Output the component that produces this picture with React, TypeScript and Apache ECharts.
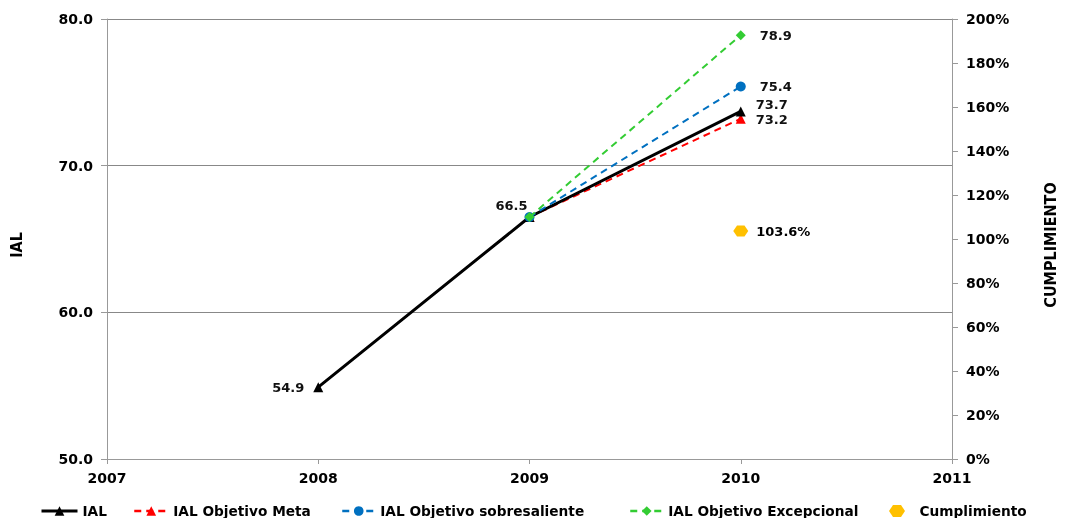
import React, { useEffect, useRef } from "react";
import * as echarts from "echarts";

const years = [2008, 2009, 2010];
const ialValues = [54.9, 66.5, 73.7];
const metaValues = [null, 66.5, 73.2];
const sobresalienteValues = [null, 66.5, 75.4];
const excepcionalValues = [null, 66.5, 78.9];
const cumplimientoYears = [2010];
const cumplimientoValues = [103.6];

const xTicks = { min: 2007, max: 2011, interval: 1 };
const leftTicks = { min: 50, max: 80, interval: 10 };
const rightTicks = { min: 0, max: 200, interval: 20 };

const LABEL_FONT = "DejaVu Sans";
const NAME_FONT = "'DejaVu Sans Condensed', 'Liberation Sans Narrow', 'DejaVu Sans', sans-serif";

function pairs(vals: (number | null)[]) {
  const out: any[] = [];
  vals.forEach((v, i) => {
    if (v !== null) out.push([years[i], v]);
  });
  return out;
}

const dataLabel = {
  fontFamily: LABEL_FONT,
  fontWeight: "bold",
  fontSize: 13,
  color: "#111",
};

export default function App() {
  const ref = useRef<HTMLDivElement>(null);
  useEffect(() => {
    const chart = echarts.init(ref.current!, undefined, { renderer: "svg" });
    const axisLabel = {
      fontFamily: LABEL_FONT,
      fontWeight: "bold" as const,
      fontSize: 14,
      color: "#000",
    };
    const legendText = {
      fontFamily: LABEL_FONT,
      fontWeight: "bold" as const,
      fontSize: 13.7,
      color: "#000",
    };
    const nameStyle = {
      fontFamily: NAME_FONT,
      fontWeight: "bold",
      fontSize: 16,
      color: "#000",
      padding: [0, 12, 0, 0],
    };
    const ialData = pairs(ialValues).map((p, i) => {
      const lbl: any[] = [
        { show: true, position: "left", distance: 9 },
        { show: true, position: "top", distance: 1, offset: [-18, 1] },
        { show: true, position: "right", distance: 10, offset: [0, -7] },
      ];
      return { value: p, label: { ...dataLabel, ...lbl[i] } };
    });
    const lastOnly = (vals: (number | null)[], extra: any = {}) =>
      pairs(vals).map((p) =>
        p[0] === 2010
          ? { value: p, label: { ...dataLabel, show: true, position: "right", distance: 10, ...extra } }
          : { value: p }
      );
    const option: any = {
      animation: false,
      grid: {
        left: 107,
        right: 117,
        top: 19,
        bottom: 59,
        containLabel: false,
        outerBoundsMode: "none",
      },
      xAxis: {
        type: "value",
        min: xTicks.min,
        max: xTicks.max,
        interval: xTicks.interval,
        axisLine: { show: true, lineStyle: { color: "#999", width: 1 } },
        axisTick: { show: true, length: 5, lineStyle: { color: "#999" } },
        axisLabel: { ...axisLabel, margin: 12, formatter: (v: number) => String(v) },
        splitLine: { show: false },
      },
      yAxis: [
        {
          type: "value",
          min: leftTicks.min,
          max: leftTicks.max,
          interval: leftTicks.interval,
          name: "IAL",
          nameLocation: "middle",
          nameGap: 83,
          nameTextStyle: nameStyle,
          axisLine: { show: true, lineStyle: { color: "#999", width: 1 } },
          axisTick: { show: true, length: 6, lineStyle: { color: "#999" } },
          axisLabel: { ...axisLabel, margin: 14, formatter: (v: number) => v.toFixed(1) },
          splitLine: { show: true, lineStyle: { color: "#888", width: 1 } },
        },
        {
          type: "value",
          min: rightTicks.min,
          max: rightTicks.max,
          interval: rightTicks.interval,
          position: "right",
          name: "CUMPLIMIENTO",
          nameLocation: "middle",
          nameGap: 90,
          nameRotate: 90,
          nameTextStyle: nameStyle,
          axisLine: { show: true, lineStyle: { color: "#999", width: 1 } },
          axisTick: { show: true, length: 6, lineStyle: { color: "#999" } },
          axisLabel: { ...axisLabel, margin: 14, formatter: (v: number) => v + "%" },
          splitLine: { show: false },
        },
      ],
      legend: [
        { name: "IAL", left: 35, w: 36, lw: 3 },
        { name: "IAL Objetivo Meta", left: 128, w: 34, lw: 2.5 },
        { name: "IAL Objetivo sobresaliente", left: 336, w: 33, lw: 2.5 },
        { name: "IAL Objetivo Excepcional", left: 624, w: 33, lw: 2.5 },
        { name: "Cumplimiento", left: 884, w: 35, lw: 2 },
      ].map((l) => ({
        data: [l.name],
        left: l.left,
        top: 499,
        itemWidth: l.w,
        itemHeight: 12,
        textStyle: legendText,
        lineStyle: { width: l.lw },
        selectedMode: false,
      })),
      series: [
        {
          name: "IAL",
          type: "line",
          data: ialData,
          lineStyle: { color: "#000", width: 3 },
          itemStyle: { color: "#000" },
          symbol: "triangle",
          symbolSize: 10,
          z: 3,
        },
        {
          name: "IAL Objetivo Meta",
          type: "line",
          data: lastOnly(metaValues, { offset: [0, 1] }),
          lineStyle: { color: "#ff0000", width: 2, type: [7, 5] },
          itemStyle: { color: "#ff0000" },
          symbol: "triangle",
          symbolSize: 10,
          z: 2,
        },
        {
          name: "IAL Objetivo sobresaliente",
          type: "line",
          data: lastOnly(sobresalienteValues, { distance: 14 }),
          lineStyle: { color: "#0070c0", width: 2, type: [7, 5] },
          itemStyle: { color: "#0070c0" },
          symbol: "circle",
          symbolSize: 10,
          z: 4,
        },
        {
          name: "IAL Objetivo Excepcional",
          type: "line",
          data: lastOnly(excepcionalValues, { distance: 14 }),
          lineStyle: { color: "#33cc33", width: 2, type: [7, 5] },
          itemStyle: { color: "#33cc33" },
          symbol: "diamond",
          symbolSize: 10,
          z: 5,
        },
        {
          name: "Cumplimiento",
          type: "scatter",
          yAxisIndex: 1,
          data: cumplimientoYears.map((y, i) => [y, cumplimientoValues[i]]),
          symbol: "path://M4,0 L12,0 L16,6 L12,12 L4,12 L0,6 Z",
          symbolSize: [15, 11],
          itemStyle: { color: "#ffc000", opacity: 1 },
          label: {
            ...dataLabel,
            color: "#000",
            opacity: 1,
            show: true,
            position: "right",
            distance: 8,
            formatter: (p: any) => p.value[1].toFixed(1) + "%",
          },
          z: 5,
        },
      ],
    };
    chart.setOption(option);
    return () => chart.dispose();
  }, []);
  return (
    <div
      ref={ref}
      style={{ position: "fixed", left: 0, top: 0, width: 1069, height: 518 }}
    />
  );
}
